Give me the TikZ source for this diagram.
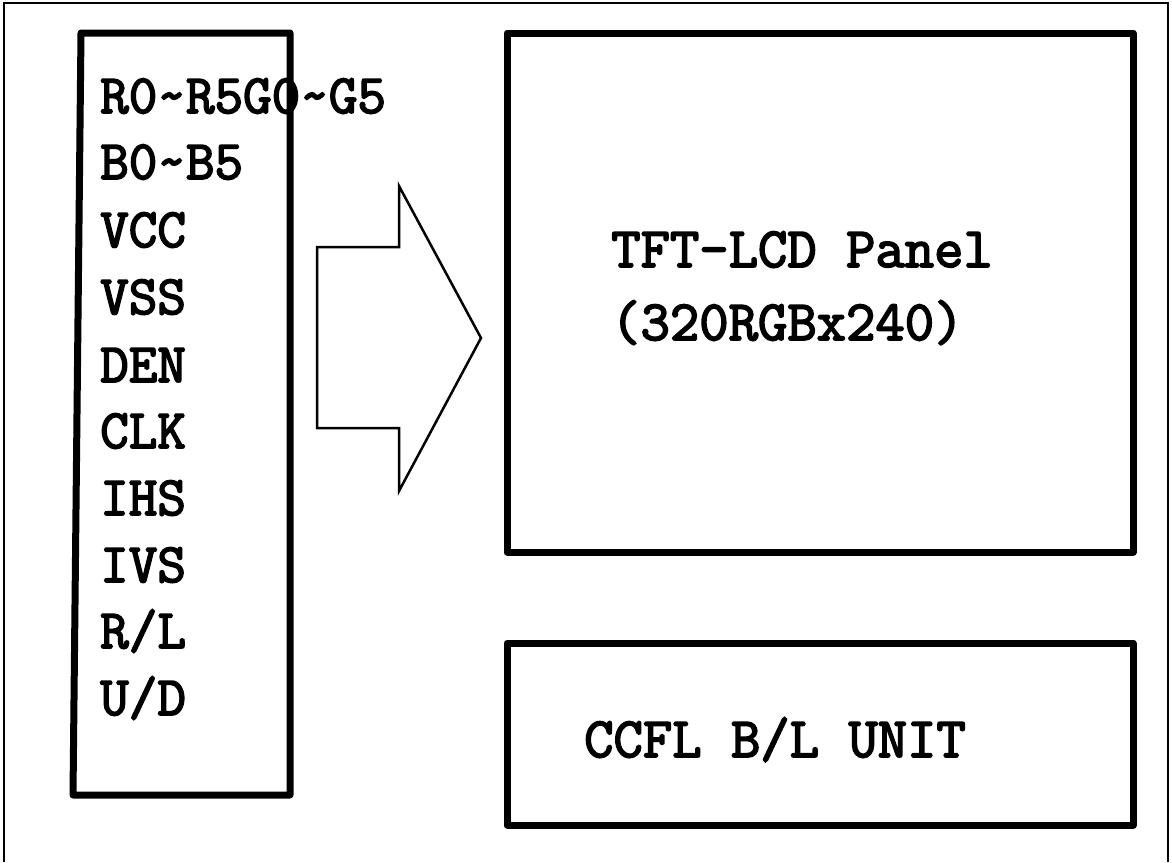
\documentclass[tikz,border=0pt]{standalone}
\usepackage{fontspec}
\newfontfamily\monobold[FakeBold=3]{Latin Modern Mono}
\begin{document}
\begin{tikzpicture}[x=1pt,y=-1pt,
  heavy/.style={line width=7pt,line join=round},
  thin/.style={line width=2.5pt,line join=miter},
  frame/.style={line width=1.2pt},
  lbl/.style={anchor=base west,inner sep=0pt,font=\monobold\fontsize{55.5}{57}\selectfont},
  plbl/.style={anchor=base west,inner sep=0pt,font=\monobold\fontsize{57}{59}\selectfont}]
\useasboundingbox (0,0) rectangle (1172,862);
% outer frame
\draw[frame] (4,862) -- (4,3) -- (1168,3) -- (1168,862);
% signal box
\draw[heavy] (81,33) -- (290,33) -- (290,795) -- (73,795) -- cycle;
% arrow
\draw[thin] (317,247) -- (399,247) -- (399,186) -- (481,338) -- (399,491) -- (399,428) -- (317,428) -- cycle;
% panel boxes
\draw[heavy] (507,33) rectangle (1133,552);
\draw[heavy] (507,643) rectangle (1133,825);
% signal labels
\node[lbl] (s1) at (100,113) {R0\string~R5G0\string~G5};
\node[lbl] (s2) at (100,179) {B0\string~B5};
\node[lbl] (s3) at (100,247) {VCC};
\node[lbl] (s4) at (100,314) {VSS};
\node[lbl] (s5) at (100,382) {DEN};
\node[lbl] (s6) at (100,448) {CLK};
\node[lbl] (s7) at (100,515) {IHS};
\node[lbl] (s8) at (100,582) {IVS};
\node[lbl] (s9) at (100,648) {R/L};
\node[lbl] (s10) at (100,715) {U/D};
% panel labels
\node[plbl] (p1) at (611,267) {TFT-LCD Panel};
\node[plbl] (p2) at (611,340) {(320RGBx240)};
\node[plbl] (p3) at (584,757) {CCFL B/L UNIT};
\end{tikzpicture}
\end{document}
